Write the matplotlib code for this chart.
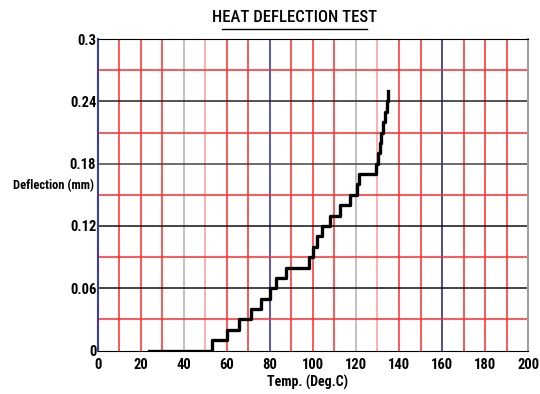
import matplotlib
matplotlib.use('Agg')
import matplotlib.pyplot as plt

plt.rcParams['font.family'] = ['Roboto Condensed', 'Liberation Sans', 'DejaVu Sans']

# heat deflection readings (step curve)
temps = [24, 53, 60, 65.5, 71, 76, 80, 83, 87.5, 98, 100, 102, 104, 108, 112.5,
         117, 120.5, 121.5, 129.5, 130.3, 131, 131.8, 132.6, 133.4, 134.2, 135]
defl = [0, 0.01, 0.02, 0.03, 0.04, 0.05, 0.06, 0.07, 0.08, 0.09, 0.10, 0.11, 0.12,
        0.13, 0.14, 0.15, 0.16, 0.17, 0.18, 0.19, 0.20, 0.21, 0.22, 0.23, 0.24, 0.25]

xticks = [0, 20, 40, 60, 80, 100, 120, 140, 160, 180, 200]
yticks = [0, 0.06, 0.12, 0.18, 0.24, 0.3]
ytick_labels = ['0', '0.06', '0.12', '0.18', '0.24', '0.3']

# grid colours
vcols = {10: '#ff2a2a', 20: '#ff2a2a', 30: '#ff2a2a', 40: '#b0b0b0', 50: '#ff9a9a',
         60: '#ff2a2a', 70: '#ff2a2a', 80: '#2a2aa0', 90: '#ff2a2a', 100: '#ff2a2a',
         110: '#ff2a2a', 120: '#b0b0b0', 130: '#ff9a9a', 140: '#ff2a2a', 150: '#ff2a2a',
         160: '#1a1a8a', 170: '#ff2a2a', 180: '#ff2a2a', 190: '#ff2a2a'}
hcols = {0.03: '#ff2a2a', 0.06: '#111111', 0.09: '#ff2a2a', 0.12: '#111111',
         0.15: '#ff2a2a', 0.18: '#444444', 0.21: '#ff2a2a', 0.24: '#222222', 0.27: '#ff2a2a'}

fig = plt.figure(figsize=(5.4, 3.94), dpi=100)
ax = fig.add_axes([0.181, 0.110, 0.797, 0.791])

for x, c in vcols.items():
    ax.axvline(x, color=c, lw=1.1, zorder=1)
for y, c in hcols.items():
    ax.axhline(y, color=c, lw=1.1, zorder=1)

ax.plot(temps, defl, drawstyle='steps-post', color='black', lw=2.4, zorder=3)

ax.set_xlim(0, 200)
ax.set_ylim(0, 0.3)
ax.set_xticks(xticks)
ax.set_yticks(yticks)
ax.set_yticklabels(ytick_labels)
ax.tick_params(length=0, labelsize=10.5, pad=1)
ax.tick_params(axis='x', pad=5)
for lab in ax.get_xticklabels() + ax.get_yticklabels():
    lab.set_fontweight('bold')

ax.spines['left'].set_color('#3a3aaa')
ax.spines['left'].set_linewidth(1.5)
ax.spines['top'].set_color('black')
ax.spines['bottom'].set_color('black')
ax.spines['right'].set_color('#a0a0a0')
ax.spines['right'].set_linewidth(1.5)

fig.text(0.545, 0.955, 'HEAT DEFLECTION TEST', ha='center', va='center',
         fontsize=12, fontweight='medium')
# underline
fig.add_artist(plt.Line2D([0.411, 0.679], [0.926, 0.926], color='black', lw=1,
                          transform=fig.transFigure))
fig.text(0.024, 0.53, 'Deflection (mm)', ha='left', va='center',
         fontsize=9, fontweight='bold')
fig.text(0.570, 0.028, 'Temp. (Deg.C)', ha='center', va='center',
         fontsize=10, fontweight='bold')

fig.savefig('out.png', dpi=100)
